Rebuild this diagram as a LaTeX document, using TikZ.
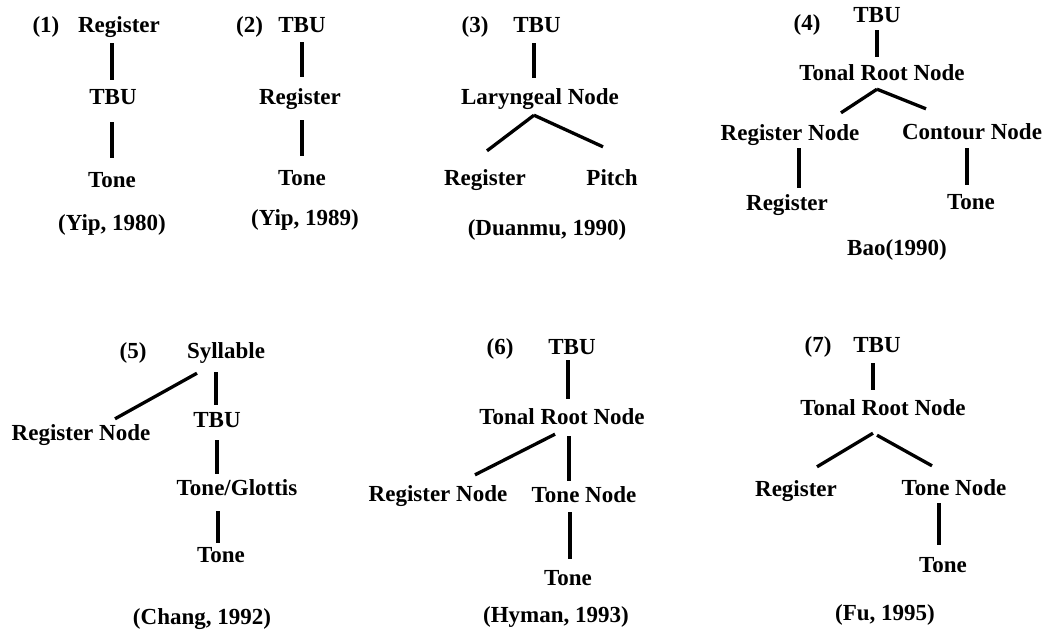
\documentclass[tikz,border=0pt]{standalone}
\usepackage{fontspec}
\setmainfont{Liberation Serif}
\usetikzlibrary{calc}
\begin{document}
\begin{tikzpicture}[x=1pt,y=-1pt,
  lbl/.style={inner sep=0pt, text height=15.5pt, text depth=0pt, anchor=center,
              font=\fontsize{23}{27}\selectfont\bfseries},
  conn/.style={line width=3.3pt}]
\fill[white] (0,0) rectangle (1043,629);
\useasboundingbox (0,0) rectangle (1043,629);

% (1) Yip 1980
\node[lbl] (p1)    at (46,25)   {(1)};
\node[lbl] (reg1)  at (119,25)  {Register};
\node[lbl] (tbu1)  at (113,97)  {TBU};
\node[lbl] (tone1) at (112,180) {Tone};
\node[lbl] (cite1) at (112,223) {(Yip, 1980)};
\draw[conn] ($(reg1.south)+(-7,10.25)$) -- ($(tbu1.north)+(-1,-9.25)$);
\draw[conn] ($(tbu1.south)+(-1,17.25)$) -- ($(tone1.north)+(0,-14.25)$);

% (2) Yip 1989
\node[lbl] (p2)    at (249.5,25) {(2)};
\node[lbl] (tbu2)  at (302,25)  {TBU};
\node[lbl] (reg2)  at (300,97)  {Register};
\node[lbl] (tone2) at (302,178) {Tone};
\node[lbl] (cite2) at (305,218) {(Yip, 1989)};
\draw[conn] ($(tbu2.south)+(0,9.25)$) -- ($(reg2.north)+(2,-12.25)$);
\draw[conn] ($(reg2.south)+(2,15.25)$) -- ($(tone2.north)+(0,-14.25)$);

% (3) Duanmu 1990
\node[lbl] (p3)     at (475,25)  {(3)};
\node[lbl] (tbu3)   at (537,25)  {TBU};
\node[lbl] (lar3)   at (540,97)  {Laryngeal Node};
\node[lbl] (reg3)   at (485,178) {Register};
\node[lbl] (pitch3) at (612,178) {Pitch};
\node[lbl] (cite3)  at (547,228) {(Duanmu, 1990)};
\draw[conn] ($(tbu3.south)+(-3,10.25)$) -- ($(lar3.north)+(-6,-11.25)$);
\draw[conn] ($(lar3.south)+(-6,10.25)$) -- ($(reg3.north)+(2,-19.25)$);
\draw[conn] ($(lar3.south)+(-6,10.25)$) -- ($(pitch3.north)+(-9,-23.25)$);

% (4) Bao 1990
\node[lbl] (p4)    at (807,23)  {(4)};
\node[lbl] (tbu4)  at (877,15)  {TBU};
\node[lbl] (trn4)  at (882,73)  {Tonal Root Node};
\node[lbl] (rn4)   at (790,133) {Register Node};
\node[lbl] (cn4)   at (972,132) {Contour Node};
\node[lbl] (reg4)  at (787,203) {Register};
\node[lbl] (tone4) at (971,202) {Tone};
\node[lbl] (cite4) at (897,248) {Bao(1990)};
\draw[conn] ($(tbu4.south)+(0,7.25)$) -- ($(trn4.north)+(-5,-8.25)$);
\draw[conn] ($(trn4.south)+(-5,8.25)$) -- ($(rn4.north)+(51,-12.25)$);
\draw[conn] ($(trn4.south)+(-5,8.25)$) -- ($(cn4.north)+(-46,-15.25)$);
\draw[conn] ($(rn4.south)+(9,7.25)$) -- ($(reg4.north)+(12,-7.25)$);
\draw[conn] ($(cn4.south)+(-5,8.25)$) -- ($(tone4.north)+(-4,-9.25)$);

% (5) Chang 1992
\node[lbl] (p5)    at (133,351) {(5)};
\node[lbl] (syl5)  at (226,351) {Syllable};
\node[lbl] (rn5)   at (81,433)  {Register Node};
\node[lbl] (tbu5)  at (217,420) {TBU};
\node[lbl] (tg5)   at (237,488) {Tone/Glottis};
\node[lbl] (tone5) at (221,555) {Tone};
\node[lbl] (cite5) at (202,617) {(Chang, 1992)};
\draw[conn] ($(syl5.south)+(-29,14.25)$) -- ($(rn5.north)+(34,-6.25)$);
\draw[conn] ($(syl5.south)+(-10,13.25)$) -- ($(tbu5.north)+(-1,-7.25)$);
\draw[conn] ($(tbu5.south)+(0,12.25)$) -- ($(tg5.north)+(-20,-6.25)$);
\draw[conn] ($(tg5.south)+(-19,15.25)$) -- ($(tone5.north)+(-3,-4.25)$);

% (6) Hyman 1993
\node[lbl] (p6)    at (500,347) {(6)};
\node[lbl] (tbu6)  at (572,347) {TBU};
\node[lbl] (trn6)  at (562,417) {Tonal Root Node};
\node[lbl] (rn6)   at (438,494) {Register Node};
\node[lbl] (tn6)   at (584,495) {Tone Node};
\node[lbl] (tone6) at (568,578) {Tone};
\node[lbl] (cite6) at (556,615) {(Hyman, 1993)};
\draw[conn] ($(tbu6.south)+(-4,5.25)$) -- ($(trn6.north)+(6,-10.25)$);
\draw[conn] ($(trn6.south)+(-7,9.25)$) -- ($(rn6.north)+(37,-11.25)$);
\draw[conn] ($(trn6.south)+(7,11.25)$) -- ($(tn6.north)+(-15,-6.25)$);
\draw[conn] ($(tn6.south)+(-14,9.25)$) -- ($(tone6.north)+(2,-11.25)$);

% (7) Fu 1995
\node[lbl] (p7)    at (818,345) {(7)};
\node[lbl] (tbu7)  at (877,345) {TBU};
\node[lbl] (trn7)  at (883,408) {Tonal Root Node};
\node[lbl] (reg7)  at (796,489) {Register};
\node[lbl] (tn7)   at (954,488) {Tone Node};
\node[lbl] (tone7) at (943,565) {Tone};
\node[lbl] (cite7) at (885,613) {(Fu, 1995)};
\draw[conn] ($(tbu7.south)+(-4,10.25)$) -- ($(trn7.north)+(-10,-10.25)$);
\draw[conn] ($(trn7.south)+(-10,17.25)$) -- ($(reg7.north)+(21,-14.25)$);
\draw[conn] ($(trn7.south)+(-6,19.25)$) -- ($(tn7.north)+(-22,-14.25)$);
\draw[conn] ($(tn7.south)+(-15,7.25)$) -- ($(tone7.north)+(-4,-12.25)$);
\end{tikzpicture}
\end{document}
